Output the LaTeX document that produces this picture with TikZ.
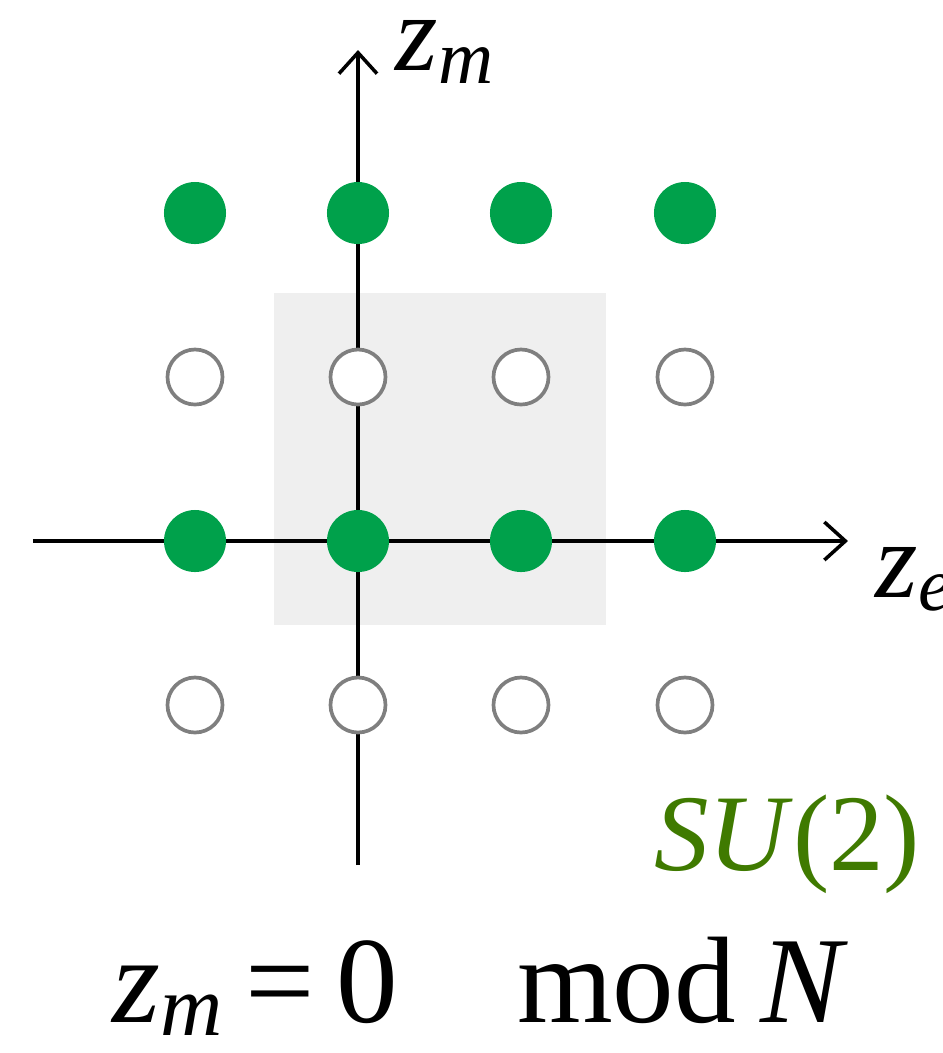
\documentclass[tikz,border=0pt]{standalone}
\usepackage{fontspec}
\setmainfont{Liberation Serif}
\usetikzlibrary{arrows.meta}

\definecolor{dotgreen}{HTML}{00A14B}
\definecolor{labelgreen}{HTML}{3F7A00}
\definecolor{ringgray}{HTML}{7F7F7F}
\definecolor{cellgray}{HTML}{EFEFEF}

\begin{document}
\begin{tikzpicture}[
  x=0.01cm, y=-0.01cm,
  axis/.style={line width=1pt, -{Straight Barb[length=2.1mm, width=3.8mm, line width=1pt]}},
  filled/.style={circle, fill=dotgreen, inner sep=0pt, minimum size=6.2mm},
  open/.style={circle, draw=ringgray, fill=white, line width=1.05pt, inner sep=0pt, minimum size=5.5mm},
  label/.style={font=\fontsize{31}{36}\selectfont, inner sep=0pt}
]
\useasboundingbox (0,0) rectangle (943,1053);

% ------------------------------------------------------------
% Fundamental cell
% ------------------------------------------------------------
\fill[cellgray] (274,293) rectangle (606,625);

% ------------------------------------------------------------
% Axes
% ------------------------------------------------------------
\coordinate (xstart) at (33,541);
\coordinate (xend) at (848,541);
\coordinate (ystart) at (358,865);
\coordinate (yend) at (358,50);

\draw[axis] (xstart) -- (xend);
\draw[axis] (ystart) -- (yend);

\node[label, anchor=base west] (zm) at (395,70)
  {\textit{z}\textsubscript{\textit{m}}};
\node[label, anchor=base west] (ze) at (875,597)
  {\textit{z}\textsubscript{\textit{e}}};

% ------------------------------------------------------------
% Lattice: rows with z_m = 0 mod N are filled
% ------------------------------------------------------------
\foreach \i/\x in {0/195, 1/358, 2/521, 3/685} {
  \node[filled] (f0\i) at (\x,213) {};
  \node[open]   (o1\i) at (\x,377) {};
  \node[filled] (f2\i) at (\x,541) {};
  \node[open]   (o3\i) at (\x,705) {};
}

% ------------------------------------------------------------
% Labels
% ------------------------------------------------------------
\node[label, anchor=base east, text=labelgreen] (group) at (921,870)
  {\textit{SU}(2)};

\node[label, font=\fontsize{35}{40}\selectfont, anchor=base west] (rule) at (112,1022)
  {\textit{z}\textsubscript{\textit{m}}\hspace{6pt}=\hspace{6pt}0\hspace{34pt}mod\hspace{7pt}\textit{N}};

\end{tikzpicture}
\end{document}
